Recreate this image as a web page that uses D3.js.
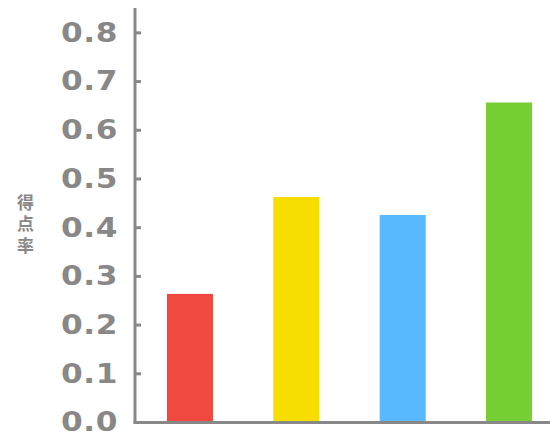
<!DOCTYPE html>
<html><head><meta charset="utf-8">
<script src="https://cdn.jsdelivr.net/npm/d3@7"></script>
<style>body{margin:0;background:#fff}svg{display:block}</style>
</head><body>
<svg id="c" width="550" height="436"></svg>
<script>
const categories = ["A", "B", "C", "D"];
const values = [0.263, 0.462, 0.425, 0.656];
const colors = ["#F04A40", "#F7DE00", "#59B8FF", "#77CF33"];
const yTicks = [0, 0.1, 0.2, 0.3, 0.4, 0.5, 0.6, 0.7, 0.8];
const yTitle = "得点率";

const svg = d3.select("#c");
const gray = "#888888";
const y = d3.scaleLinear().domain([0, 0.85]).range([422, 8]);
const x = d3.scaleBand().domain(categories).range([135, 564]).paddingInner(0.567).paddingOuter(0.3);

svg.selectAll("rect.bar").data(values).join("rect")
  .attr("class", "bar")
  .attr("x", (d, i) => x(categories[i]))
  .attr("width", x.bandwidth())
  .attr("y", d => y(d))
  .attr("height", d => y(0) - y(d))
  .attr("fill", (d, i) => colors[i]);

const yAxis = svg.append("g").attr("transform", "translate(135,0)")
  .call(d3.axisRight(y).tickValues(yTicks).tickSize(6).tickFormat(""));
yAxis.select(".domain").attr("stroke", gray).attr("stroke-width", 3).attr("d", "M0,8V423.5");
yAxis.selectAll(".tick line").attr("stroke", gray).attr("stroke-width", 3);

svg.append("line").attr("x1", 133.5).attr("x2", 550).attr("y1", 422.5).attr("y2", 422.5)
  .attr("stroke", gray).attr("stroke-width", 3);

svg.append("g").attr("transform", "translate(118,0) scale(1.2,1)")
  .selectAll("text").data(yTicks).join("text")
  .attr("x", 0).attr("y", d => y(d)).attr("dy", "0.36em")
  .attr("text-anchor", "end")
  .attr("font-family", "DejaVu Sans").attr("font-weight", "bold")
  .attr("font-size", 26).attr("letter-spacing", 0.5)
  .attr("fill", gray)
  .text(d => d.toFixed(1));

svg.append("text")
  .attr("x", 25.5).attr("y", 194)
  .style("writing-mode", "vertical-rl")
  .style("text-orientation", "upright")
  .attr("font-family", "Noto Sans CJK JP").attr("font-weight", "bold")
  .attr("font-size", 17).attr("letter-spacing", 4.5).attr("fill", gray)
  .text(yTitle);
</script>
</body></html>
